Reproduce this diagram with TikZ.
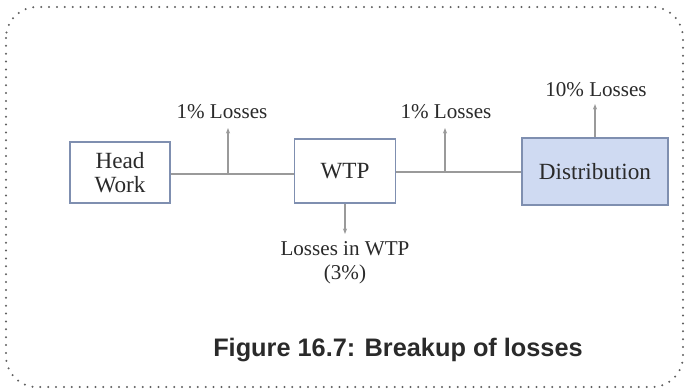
\documentclass[tikz,border=0pt]{standalone}
\usepackage{fontspec}
\setmainfont{Liberation Serif}
\newfontfamily\capfont{Liberation Sans}
\usetikzlibrary{arrows.meta}

\definecolor{boxline}{HTML}{7F8FB0}
\definecolor{boxfill}{HTML}{CFDAF2}
\definecolor{flowline}{HTML}{9A9A9A}
\definecolor{txt}{HTML}{2A2A2A}

\tikzset{
  unitbox/.style={draw=boxline, line width=1.2pt, fill=white, text=txt,
    font=\fontsize{16.5}{19}\selectfont, align=center, inner sep=0pt},
  losslabel/.style={text=txt, font=\fontsize{15}{18}\selectfont, align=center, inner sep=0pt},
  flow/.style={draw=flowline, line width=0.8pt},
  lossarrow/.style={flow, -{Stealth[length=4pt,width=3pt,open]}}
}

\begin{document}
\begin{tikzpicture}[x=0.025cm, y=-0.025cm]
\useasboundingbox (0,0) rectangle (686,390);

% frame
\draw[gray!75!black, line width=1.6pt, line cap=round, dash pattern=on 0pt off 5.6pt,
      rounded corners=22pt] (6,7) rectangle (683,387);

% units
\node[unitbox, minimum width=2.5cm, minimum height=1.53cm]
     (headwork) at (120,172.5) {Head\\[-2pt]Work};
\node[unitbox, minimum width=2.53cm, minimum height=1.6cm] (wtp) at (345,171) {WTP};
\node[unitbox, fill=boxfill, minimum width=3.65cm, minimum height=1.68cm]
     (distrib) at (595,171.5) {Distribution};

% tap points
\coordinate (tapA) at (228,174);
\coordinate (tapB) at (445,172);

% main flow
\draw[flow] (headwork.east |- tapA) -- (tapA) -- (wtp.west |- tapA);
\draw[flow] (wtp.east |- tapB) -- (tapB) -- (distrib.west |- tapB);

% losses
\node[losslabel] (lossA) at (222,112) {1\% Losses};
\node[losslabel] (lossB) at (446,112) {1\% Losses};
\node[losslabel] (lossC) at (596,90) {10\% Losses};
\node[losslabel] (lossW) at (345,263) {Losses in WTP\\[-1pt](3\%)};

\draw[lossarrow] (tapA) -- (tapA |- 0,128);
\draw[lossarrow] (tapB) -- (tapB |- 0,128);
\draw[lossarrow] (distrib.north -| 595,0) -- (595,104);
\draw[lossarrow] (wtp.south) -- (wtp.south |- 0,234);

% caption
\node[text=txt, font=\capfont\bfseries\fontsize{18}{21}\selectfont] (caption) at (398,350)
     {Figure 16.7: Breakup of losses};

\end{tikzpicture}
\end{document}
